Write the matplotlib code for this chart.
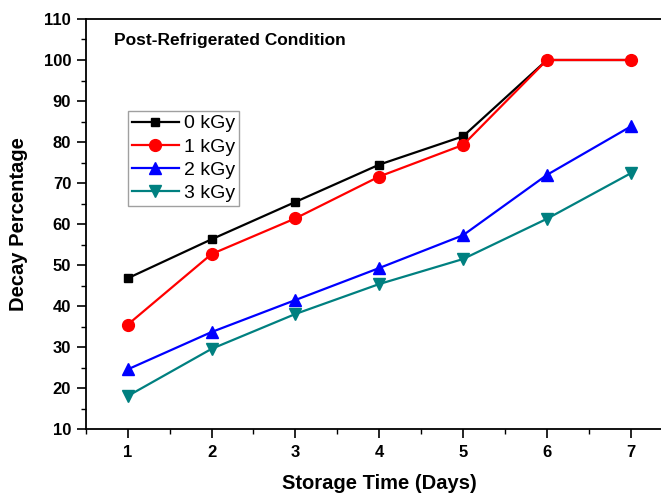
import numpy as np
import matplotlib.pyplot as plt
from matplotlib.ticker import MultipleLocator

plt.rcParams['font.family'] = ['Liberation Sans', 'DejaVu Sans']

days = [1, 2, 3, 4, 5, 6, 7]
dose_0 = [46.8, 56.3, 65.4, 74.5, 81.4, 100.0, 100.0]
dose_1 = [35.5, 52.7, 61.4, 71.6, 79.3, 100.0, 100.0]
dose_2 = [24.6, 33.7, 41.5, 49.3, 57.3, 72.0, 83.8]
dose_3 = [18.1, 29.6, 38.1, 45.4, 51.5, 61.3, 72.4]
labels = ["0 kGy", "1 kGy", "2 kGy", "3 kGy"]

fig = plt.figure(figsize=(6.61, 4.95), dpi=100)
ax = fig.add_axes([0.1297, 0.1327, 0.888, 0.829])

series = [
    (dose_0, "black", "s", 6.0),
    (dose_1, "#ff0000", "o", 8.5),
    (dose_2, "#0000ff", "^", 8.5),
    (dose_3, "#008080", "v", 8.5),
]
for (vals, col, mk, ms), lab in zip(series, labels):
    ax.plot(days, vals, color=col, marker=mk, markersize=ms, lw=1.6, label=lab)

ax.set_xlim(0.5, 7.5)
ax.set_ylim(10, 110)
ax.xaxis.set_major_locator(MultipleLocator(1))
ax.xaxis.set_minor_locator(MultipleLocator(0.5))
ax.yaxis.set_major_locator(MultipleLocator(10))
ax.yaxis.set_minor_locator(MultipleLocator(5))
ax.tick_params(which='major', direction='out', length=6.5, width=1.2, labelsize=12)
ax.tick_params(which='minor', direction='out', length=3.5, width=1.0)
ax.tick_params(axis='x', which='major', pad=5)
ax.tick_params(axis='y', which='major', pad=4)
for lbl in ax.get_xticklabels() + ax.get_yticklabels():
    lbl.set_fontweight('bold')
for sp in ax.spines.values():
    sp.set_linewidth(1.3)

ax.set_xlabel("Storage Time (Days)", fontsize=14.5, fontweight='bold')
ax.set_ylabel("Decay Percentage", fontsize=14.5, fontweight='bold')
ax.xaxis.label.set_va('center')
ax.yaxis.label.set_va('center')
ax.xaxis.set_label_coords(0.5, (429.3 - 483) / (0.829 * 495))
ax.yaxis.set_label_coords((18 - 85.7) / (0.888 * 661), 0.5)

ax.text(114 / 661, 1 - 41 / 495, "Post-Refrigerated Condition", transform=fig.transFigure,
        fontsize=12.5, fontweight='bold', va='center', ha='left')

leg = ax.legend(loc='upper left', bbox_to_anchor=(128 / 661, 1 - 111 / 495),
                bbox_transform=fig.transFigure, fontsize=14, frameon=True,
                fancybox=False, edgecolor='#888888', handlelength=2.4,
                borderpad=0.2, labelspacing=0.29, handletextpad=0.3, borderaxespad=0)
leg.get_frame().set_linewidth(1.0)

fig.savefig("out.png", dpi=100)
